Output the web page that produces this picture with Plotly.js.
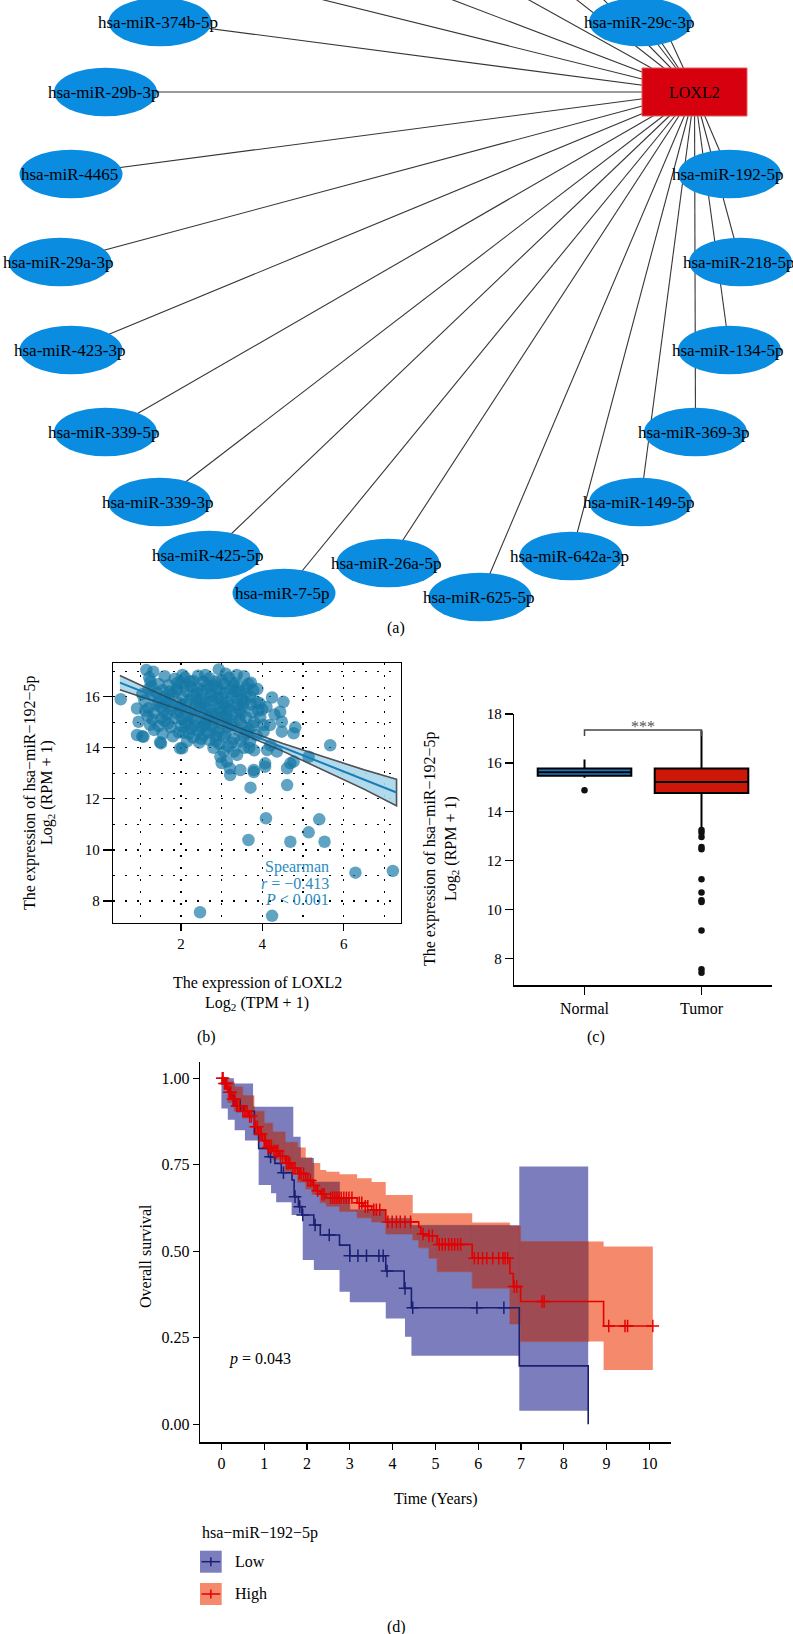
<!DOCTYPE html>
<html><head><meta charset="utf-8">
<script src="https://cdn.plot.ly/plotly-3.0.1.min.js"></script>
<style>html,body{margin:0;padding:0;background:#fff;}#chart{width:793px;height:1634px;}</style>
</head><body><div id="chart"></div>
<script>
const W = 793, H = 1634;
const FONT = 'Liberation Serif';

// ---------- Panel (a): miRNA – LOXL2 network ----------
const nodeNames = ['hsa-miR-374b-5p','hsa-miR-29c-3p','hsa-miR-29b-3p','hsa-miR-4465','hsa-miR-29a-3p','hsa-miR-423-3p',
  'hsa-miR-339-5p','hsa-miR-339-3p','hsa-miR-425-5p','hsa-miR-7-5p','hsa-miR-26a-5p','hsa-miR-625-5p',
  'hsa-miR-642a-3p','hsa-miR-149-5p','hsa-miR-369-3p','hsa-miR-134-5p','hsa-miR-218-5p','hsa-miR-192-5p'];
const nodeX = [160, 640.5, 105.5, 71, 60, 71, 105.5, 159.5, 209, 284, 388, 480, 571, 640.5, 695.5, 729.5, 740.5, 729.5];
const nodeY = [22, 22, 92, 174, 262, 350, 432, 502, 555, 593, 563, 597, 556, 502, 432, 350, 262, 174];
const hiddenX = [122.6, 321.7, 439.1, 513.1, 554.8, 599.6, 628.9];   // nodes above the cropped top
const hiddenY = [-50, -50, -50, -50, -50, -50, -50];
const hubName = 'LOXL2';
const hubX = 694.5, hubY = 92;

// ---------- Panel (b): correlation ----------
const loxl2Expr = [
1.15,1.32,2.93,1.6,2.42,3.37,3.55,2.1,1.85,2.7,
3.18,1.25,3.72,1.45,1.7,2.0,2.25,2.55,2.8,3.05,
3.3,3.6,1.2,1.55,1.9,2.15,2.4,2.65,2.95,3.2,
3.45,3.78,1.05,2.85,2.3,1.3,1.6,1.8,2.05,2.3,
2.5,2.75,3.0,3.25,3.5,3.7,1.1,1.45,1.95,2.2,
2.6,2.9,3.15,3.4,3.85,1.7,2.4,3.6,4.24,4.52,
3.93,1.2,1.5,1.75,2.0,2.25,2.45,2.7,2.95,3.2,
3.45,3.75,1.35,1.65,1.9,2.15,2.55,2.85,3.1,3.35,
3.6,0.92,0.96,4.44,4.0,2.35,3.05,1.3,1.6,1.85,
2.1,2.35,2.6,2.8,3.0,3.25,3.5,3.8,1.45,1.75,
2.0,2.25,2.5,2.75,3.15,3.4,3.65,4.48,4.03,4.19,
4.81,1.24,1.55,1.8,2.05,2.3,2.55,2.85,3.1,3.3,
3.55,3.85,0.92,1.05,1.49,2.15,2.45,2.7,2.95,3.25,
4.03,4.48,4.77,3.7,1.98,2.8,3.05,3.3,3.38,3.55,
3.8,4.12,4.36,4.2,2.97,5.67,5.14,3.0,3.13,3.2,
4.07,4.69,3.46,3.79,4.61,4.77,3.21,3.71,4.61,3.79,
4.07,0.52,1.08,1.51,2.03,2.47,3.66,4.09,4.24,4.69,
5.40,5.14,5.53,6.29,7.21,
1.88,2.12,2.28,2.38,2.52,2.62,2.68,2.78,2.88,2.98,
3.08,3.12,3.22,3.28,3.38,3.48,1.98,2.08,2.18,2.42,
2.58,2.72,2.92,3.02,3.42,3.52,3.62,1.62,1.72,1.52,
1.38,1.28,1.18,3.72,3.88,3.95,4.3,4.1,
1.42,1.58,1.68,1.78,1.92,2.02,2.22,2.32,2.48,2.56,
2.64,2.76,2.82,2.9,3.0,3.06,3.14,3.24,3.34,3.44,
3.56,3.66,3.76,3.9,1.95,2.2,2.5,2.66,2.86,3.16,
3.46,3.68,1.34,1.12,1.22,2.04,2.6,3.1];
const mir192Expr = [
17.05,16.98,17.07,16.8,16.82,16.85,16.8,16.75,16.7,16.72,
16.75,16.6,16.55,16.5,16.45,16.55,16.4,16.6,16.45,16.5,
16.55,16.35,16.3,16.25,16.3,16.2,16.35,16.3,16.25,16.3,
16.2,16.25,16.1,16.6,16.62,16.05,16.0,16.1,15.95,16.05,
15.9,16.1,15.95,16.05,15.9,16.0,15.85,15.8,15.75,15.85,
15.8,15.75,15.8,15.7,15.8,15.9,16.15,16.1,15.97,15.8,
15.75,15.55,15.6,15.5,15.6,15.45,15.6,15.5,15.55,15.45,
15.5,15.4,15.35,15.3,15.35,15.25,15.35,15.3,15.25,15.3,
15.2,15.54,15.02,15.41,15.5,15.65,15.7,15.1,15.05,15.15,
15.0,15.1,14.95,15.1,14.95,15.05,14.9,15.0,14.85,14.8,
14.85,14.75,14.8,14.85,14.8,14.7,14.75,15.02,14.89,14.89,
14.8,14.9,14.55,14.45,14.6,14.4,14.5,14.45,14.55,14.35,
14.45,14.5,14.5,14.45,14.22,14.25,14.2,14.3,14.15,14.2,
14.63,14.63,14.57,14.25,13.98,14.0,13.85,13.85,13.72,14.0,
13.9,13.91,13.85,14.1,13.65,14.1,13.65,13.4,13.46,13.2,
13.39,13.39,13.13,13.13,13.2,13.46,12.93,12.44,12.54,13.05,
13.26,15.9,14.43,14.17,13.98,7.56,10.39,11.24,7.42,10.32,
11.2,10.69,10.32,9.11,9.18,
16.2,15.7,15.2,15.9,16.25,15.55,15.15,15.85,16.35,15.4,
16.15,15.1,15.65,16.45,15.95,15.35,15.45,16.4,14.95,14.65,
14.9,16.0,14.65,15.2,16.4,15.65,14.6,15.75,16.2,15.15,
15.7,16.4,15.25,15.7,16.3,15.2,15.3,15.6,
16.15,15.45,14.95,15.65,16.55,15.15,16.6,14.85,15.75,15.05,
16.45,15.35,14.7,15.95,16.65,14.45,15.55,14.9,16.2,15.1,
15.8,16.5,14.85,15.45,14.6,14.55,14.35,14.6,14.25,14.05,
14.25,14.0,14.7,15.45,16.75,16.85,16.85,16.9];
const fitX  = [0.5, 1.5, 2.5, 3.5, 4.5, 5.5, 6.5, 7.3];
const fitY  = [16.55, 15.92, 15.29, 14.65, 14.02, 13.39, 12.76, 12.25];
const fitUp = [16.83, 16.09, 15.39, 14.74, 14.17, 13.64, 13.14, 12.77];
const fitLo = [16.27, 15.75, 15.19, 14.56, 13.87, 13.14, 12.38, 11.73];
const spearmanLines = ['Spearman', '<i>r</i> = −0.413', '<i>P</i> < 0.001'];

// ---------- Panel (c): box plot ----------
const groups = ['Normal', 'Tumor'];
const boxQ1 = [15.47, 14.77], boxMed = [15.62, 15.22], boxQ3 = [15.77, 15.77];
const boxLo = [15.39, 13.32], boxHi = [16.14, 17.31];
const boxColors = ['#1f78c1', '#cc1709'];
const outGroup = ['Normal','Tumor','Tumor','Tumor','Tumor','Tumor','Tumor','Tumor','Tumor','Tumor','Tumor','Tumor','Tumor'];
const outVal = [14.88, 13.25, 13.14, 12.97, 12.56, 12.47, 11.24, 10.70, 10.38, 10.31, 9.14, 7.55, 7.41];
const bracketY = [17.1, 17.35, 17.35, 17.1];
const sigLabel = '***';

// ---------- Panel (d): survival ----------
const lowT = [0, 0.1, 0.2, 0.29, 0.53, 0.77, 0.87, 1.1, 1.25, 1.4, 1.65, 1.70, 1.80, 1.88, 2.16, 2.31, 2.76, 3.00, 3.84, 4.27, 4.44, 6.96, 8.57];
const lowS = [1, 0.97, 0.95, 0.92, 0.905, 0.84, 0.797, 0.773, 0.754, 0.727, 0.706, 0.658, 0.629, 0.605, 0.576, 0.547, 0.518, 0.487, 0.443, 0.393, 0.337, 0.169, 0];
const lowCensor = [0.37, 0.44, 1.15, 1.45, 1.72, 1.83, 1.9, 2.19, 2.52, 3.0, 3.19, 3.39, 3.68, 3.78, 3.87, 4.29, 4.47, 5.97, 6.6];
const highT = [0, 0.05, 0.15, 0.24, 0.34, 0.48, 0.63, 0.77, 0.87, 0.96, 1.06, 1.20, 1.35, 1.49, 1.64, 1.78, 1.97, 2.12, 2.21, 2.31, 2.45, 3.17, 3.31, 3.51, 3.84, 4.61, 4.66, 4.85, 5.04, 5.86, 6.74, 6.82, 6.99, 8.93, 10.08];
const highS = [1, 0.985, 0.96, 0.94, 0.92, 0.905, 0.89, 0.86, 0.84, 0.82, 0.80, 0.79, 0.775, 0.755, 0.74, 0.725, 0.705, 0.69, 0.675, 0.665, 0.655, 0.64, 0.63, 0.62, 0.585, 0.57, 0.55, 0.545, 0.52, 0.48, 0.436, 0.398, 0.355, 0.284, 0.284];
const highCensor = [0.02,0.04,0.07,0.1,0.12,0.18,0.22,0.27,0.32,0.37,0.42,0.5,0.55,0.6,0.66,0.7,0.8,0.84,0.9,0.93,
  1.0,1.03,1.09,1.13,1.17,1.23,1.28,1.32,1.38,1.43,1.52,1.56,1.6,1.67,1.72,1.82,1.86,1.92,2.02,2.08,2.16,2.25,2.35,2.4,
  2.55,2.6,2.65,2.7,2.75,2.8,2.86,2.92,2.98,3.05,3.22,3.28,3.36,3.42,3.56,3.62,3.7,
  3.89,3.99,4.09,4.18,4.29,4.42,4.71,4.85,4.93,5.09,5.16,5.23,5.31,5.38,5.45,5.52,5.59,
  5.91,6.0,6.1,6.2,6.34,6.48,6.58,6.63,6.69,6.84,6.9,7.49,7.54,9.05,9.43,9.49,10.08];
const lowBandT  = [0, 0.15, 0.29, 0.31, 0.55, 0.74, 0.87, 1.16, 1.28, 1.64, 1.68, 1.85, 1.9, 2.16, 2.76, 3.0, 3.84, 4.29, 4.44, 6.96, 8.57];
const lowBandUp = [1.0, 1.0, 0.985, 0.985, 0.985, 0.918, 0.918, 0.918, 0.918, 0.918, 0.831, 0.77, 0.77, 0.70, 0.655, 0.62, 0.595, 0.595, 0.575, 0.745, 0.745];
const lowBandLo = [0.913, 0.88, 0.88, 0.85, 0.82, 0.82, 0.692, 0.668, 0.642, 0.605, 0.605, 0.605, 0.475, 0.446, 0.383, 0.353, 0.306, 0.253, 0.198, 0.039, 0.039];
const highBandT  = [0, 0.15, 0.3, 0.5, 0.77, 1.0, 1.2, 1.49, 1.78, 1.97, 2.12, 2.31, 2.45, 2.76, 3.17, 3.51, 3.84, 4.47, 4.61, 4.85, 5.04, 5.86, 6.74, 6.99, 8.93, 10.08];
const highBandUp = [1.0, 0.99, 0.975, 0.95, 0.905, 0.87, 0.845, 0.815, 0.80, 0.77, 0.755, 0.735, 0.73, 0.723, 0.711, 0.70, 0.663, 0.61, 0.61, 0.61, 0.61, 0.583, 0.573, 0.528, 0.514, 0.514];
const highBandLo = [0.985, 0.93, 0.905, 0.885, 0.835, 0.795, 0.765, 0.73, 0.70, 0.68, 0.665, 0.64, 0.63, 0.615, 0.597, 0.585, 0.55, 0.533, 0.51, 0.48, 0.441, 0.393, 0.29, 0.239, 0.157, 0.157];
const survTicks = [0, 0.25, 0.5, 0.75, 1.0];
const survTickText = ['0.00', '0.25', '0.50', '0.75', '1.00'];
const legendTitle = 'hsa−miR−192−5p';
const legendLabels = ['Low', 'High'];
const pText = '<i>p</i> = 0.043';

// ---------- helpers ----------
const px = v => v / W;
const py = v => 1 - v / H;
function stepAt(T, V, t) { let v = V[0]; for (let i = 0; i < T.length; i++) { if (T[i] <= t + 1e-9) v = V[i]; else break; } return v; }
function stepPoly(T, up, lo) {
  const xs = [], ys = [];
  for (let i = 0; i < T.length - 1; i++) { xs.push(T[i], T[i + 1]); ys.push(up[i], up[i]); }
  for (let i = T.length - 2; i >= 0; i--) { xs.push(T[i + 1], T[i]); ys.push(lo[i], lo[i]); }
  return { xs, ys };
}

const COL = { lowBand: '#7b7dbd', highBand: '#f48a6b', overlap: '#9e4b54', lowLine: '#1b1f72', highLine: '#e30000' };

const traces = [];
const shapes = [];
const annotations = [];

// ---- (a) network ----
const ex = [], ey = [];
for (let i = 0; i < nodeX.length; i++) { ex.push(nodeX[i], hubX, null); ey.push(nodeY[i], hubY, null); }
for (let i = 0; i < hiddenX.length; i++) { ex.push(hiddenX[i], hubX, null); ey.push(hiddenY[i], hubY, null); }
traces.push({ type: 'scatter', mode: 'lines', x: ex, y: ey, xaxis: 'x', yaxis: 'y', line: { color: '#363636', width: 1.1 }, hoverinfo: 'skip' });
const RX = 51.5, RY = 24.3;
for (let i = 0; i < nodeX.length; i++) {
  shapes.push({ type: 'circle', xref: 'x', yref: 'y', x0: nodeX[i] - RX, x1: nodeX[i] + RX, y0: nodeY[i] - RY, y1: nodeY[i] + RY,
    fillcolor: '#0a8ce0', line: { width: 0 }, layer: 'above' });
  annotations.push({ xref: 'x', yref: 'y', x: nodeX[i] - 2, y: nodeY[i], text: nodeNames[i], showarrow: false,
    font: { family: FONT, size: 17, color: '#000' }, xanchor: 'center', yanchor: 'middle' });
}
shapes.push({ type: 'rect', xref: 'x', yref: 'y', x0: hubX - 52.5, x1: hubX + 52.5, y0: hubY - 24, y1: hubY + 24,
  fillcolor: '#d7000f', line: { color: '#e45a5a', width: 1 }, layer: 'above' });
annotations.push({ xref: 'x', yref: 'y', x: hubX, y: hubY, text: hubName, showarrow: false, xanchor: 'center', yanchor: 'middle',
  font: { family: FONT, size: 16, color: '#000' } });

// ---- (b) scatter ----
const bandPoly = { x: fitX.concat(fitX.slice().reverse()), y: fitUp.concat(fitLo.slice().reverse()) };
traces.push({ type: 'scatter', mode: 'lines', x: bandPoly.x, y: bandPoly.y, fill: 'toself', fillcolor: 'rgba(168,214,234,0.9)',
  line: { color: '#7a7a7a', width: 1.5 }, xaxis: 'x2', yaxis: 'y2', hoverinfo: 'skip' });
traces.push({ type: 'scatter', mode: 'markers', x: loxl2Expr, y: mir192Expr, xaxis: 'x2', yaxis: 'y2',
  marker: { size: 12.5, color: 'rgba(20,120,165,0.68)', line: { width: 0 } }, hoverinfo: 'skip' });
traces.push({ type: 'scatter', mode: 'lines', x: bandPoly.x, y: bandPoly.y, line: { color: 'rgba(40,50,55,0.55)', width: 1.4 },
  xaxis: 'x2', yaxis: 'y2', hoverinfo: 'skip' });
traces.push({ type: 'scatter', mode: 'lines', x: fitX, y: fitY, line: { color: '#1a7db5', width: 2 }, xaxis: 'x2', yaxis: 'y2', hoverinfo: 'skip' });
const spY = [866.7, 883.3, 900];
spearmanLines.forEach((t, i) => annotations.push({ xref: 'paper', yref: 'paper', x: px(331), y: py(spY[i]), text: t, showarrow: false,
  xanchor: 'right', yanchor: 'middle', font: { family: FONT, size: 16, color: '#2b8cbe' } }));

// ---- (c) box ----
for (let i = 0; i < groups.length; i++) {
  traces.push({ type: 'box', x: [groups[i]], q1: [boxQ1[i]], median: [boxMed[i]], q3: [boxQ3[i]], lowerfence: [boxLo[i]], upperfence: [boxHi[i]],
    fillcolor: boxColors[i], line: { color: '#000', width: 2 }, width: 0.8, whiskerwidth: 0, boxpoints: false,
    xaxis: 'x3', yaxis: 'y3', hoverinfo: 'skip' });
}
traces.push({ type: 'scatter', mode: 'markers', x: outGroup, y: outVal, marker: { color: '#111', size: 6.5 }, xaxis: 'x3', yaxis: 'y3', hoverinfo: 'skip' });
traces.push({ type: 'scatter', mode: 'lines', x: [groups[0], groups[0], groups[1], groups[1]], y: bracketY, line: { color: '#444', width: 1.5 },
  xaxis: 'x3', yaxis: 'y3', hoverinfo: 'skip' });
annotations.push({ xref: 'x3', yref: 'y3', x: 0.5, y: 17.47, text: sigLabel, showarrow: false, xanchor: 'center', yanchor: 'middle',
  font: { family: FONT, size: 16, color: '#555' } });

// ---- (d) survival ----
const lp = stepPoly(lowBandT, lowBandUp, lowBandLo);
const hp = stepPoly(highBandT, highBandUp, highBandLo);
traces.push({ type: 'scatter', mode: 'lines', x: lp.xs, y: lp.ys, fill: 'toself', fillcolor: COL.lowBand, line: { width: 0, color: COL.lowBand }, xaxis: 'x4', yaxis: 'y4', hoverinfo: 'skip' });
traces.push({ type: 'scatter', mode: 'lines', x: hp.xs, y: hp.ys, fill: 'toself', fillcolor: COL.highBand, line: { width: 0, color: COL.highBand }, xaxis: 'x4', yaxis: 'y4', hoverinfo: 'skip' });
const endOv = Math.min(lowBandT[lowBandT.length - 1], highBandT[highBandT.length - 1]);
const merged = Array.from(new Set(lowBandT.concat(highBandT).filter(t => t <= endOv))).sort((a, b) => a - b);
const ovX = [], ovY = [];
for (let i = 0; i < merged.length - 1; i++) {
  const a = merged[i], b = merged[i + 1];
  const top = Math.min(stepAt(lowBandT, lowBandUp, a), stepAt(highBandT, highBandUp, a));
  const bot = Math.max(stepAt(lowBandT, lowBandLo, a), stepAt(highBandT, highBandLo, a));
  if (top > bot) { ovX.push(a, b, b, a, a, null); ovY.push(bot, bot, top, top, bot, null); }
}
traces.push({ type: 'scatter', mode: 'lines', x: ovX, y: ovY, fill: 'toself', fillcolor: COL.overlap, line: { width: 0.6, color: COL.overlap },
  xaxis: 'x4', yaxis: 'y4', hoverinfo: 'skip' });
traces.push({ type: 'scatter', mode: 'lines', x: lowT, y: lowS, line: { shape: 'hv', color: COL.lowLine, width: 1.6 }, xaxis: 'x4', yaxis: 'y4', hoverinfo: 'skip' });
traces.push({ type: 'scatter', mode: 'lines', x: highT, y: highS, line: { shape: 'hv', color: COL.highLine, width: 1.6 }, xaxis: 'x4', yaxis: 'y4', hoverinfo: 'skip' });
traces.push({ type: 'scatter', mode: 'markers', x: lowCensor, y: lowCensor.map(t => stepAt(lowT, lowS, t)),
  marker: { symbol: 'cross-thin', size: 9, line: { color: COL.lowLine, width: 1.5 } }, xaxis: 'x4', yaxis: 'y4', hoverinfo: 'skip' });
traces.push({ type: 'scatter', mode: 'markers', x: highCensor, y: highCensor.map(t => stepAt(highT, highS, t)),
  marker: { symbol: 'cross-thin', size: 9, line: { color: COL.highLine, width: 1.5 } }, xaxis: 'x4', yaxis: 'y4', hoverinfo: 'skip' });

// paper-positioned texts (explicit anchors)
function ann(x, y, text, opts) { annotations.push(Object.assign({ xref: 'paper', yref: 'paper', x: px(x), y: py(y), text, showarrow: false,
  xanchor: 'center', yanchor: 'middle', font: { family: FONT, size: 16, color: '#000' } }, opts || {})); }
ann(260, 1359, pText);

// legend
ann(200, 1533, legendTitle, { xanchor: 'left' });
const keyY = [1561.7, 1594], keyFill = [COL.lowBand, COL.highBand], keyLine = [COL.lowLine, COL.highLine];
for (let i = 0; i < 2; i++) {
  shapes.push({ type: 'rect', xref: 'paper', yref: 'paper', x0: px(200), x1: px(221.7), y0: py(keyY[i] + 11), y1: py(keyY[i] - 11), fillcolor: keyFill[i], line: { width: 0 } });
  shapes.push({ type: 'line', xref: 'paper', yref: 'paper', x0: px(201.5), x1: px(220.2), y0: py(keyY[i]), y1: py(keyY[i]), line: { color: keyLine[i], width: 1.5 } });
  shapes.push({ type: 'line', xref: 'paper', yref: 'paper', x0: px(210.85), x1: px(210.85), y0: py(keyY[i] - 4.5), y1: py(keyY[i] + 4.5), line: { color: keyLine[i], width: 1.5 } });
  ann(232.7, keyY[i], legendLabels[i], { xanchor: 'left' });
}

// axis titles & panel labels
ann(30, 793, 'The expression of hsa−miR−192−5p', { textangle: -90 });
ann(48, 793, 'Log<sub>2</sub> (RPM + 1)', { textangle: -90 });
ann(257, 983, 'The expression of LOXL2');
ann(257, 1003, 'Log<sub>2</sub> (TPM + 1)');
ann(430, 849, 'The expression of hsa−miR−192−5p', { textangle: -90 });
ann(451, 849, 'Log<sub>2</sub> (RPM + 1)', { textangle: -90 });
ann(145, 1256, 'Overall survival', { textangle: -90 });
ann(435.5, 1499, 'Time (Years)');
ann(396, 628, '(a)');
ann(207, 1037, '(b)');
ann(596, 1037, '(c)');
ann(396, 1627, '(d)');

const tickFont = { family: FONT, size: 15, color: '#000' };
const dotGrid = '2px,10px';
const layout = {
  width: W, height: H, margin: { l: 0, r: 0, t: 0, b: 0 }, paper_bgcolor: '#fff', plot_bgcolor: 'rgba(0,0,0,0)',
  showlegend: false, font: { family: FONT, color: '#000' },
  xaxis: { domain: [0, 1], range: [0, W], visible: false, fixedrange: true },
  yaxis: { domain: [1 - 630 / H, 1], range: [630, 0], visible: false, fixedrange: true },
  xaxis2: { domain: [px(113), px(401)], anchor: 'y2', range: [0.33, 7.41], tick0: 0, dtick: 2, showline: true, mirror: true, linecolor: '#000', linewidth: 1.3,
    ticks: 'outside', ticklen: 7, tickwidth: 1.2, tickcolor: '#000', tickfont: tickFont, zeroline: false,
    showgrid: true, gridcolor: '#000', gridwidth: 1.2, griddash: dotGrid,
    minor: { tick0: 0, dtick: 1, showgrid: true, gridcolor: '#000', gridwidth: 1.2, griddash: dotGrid, ticks: '' } },
  yaxis2: { domain: [py(923), py(663)], anchor: 'x2', range: [7.14, 17.32], tick0: 0, dtick: 2, showline: true, mirror: true, linecolor: '#000', linewidth: 1.3,
    ticks: 'outside', ticklen: 9, tickwidth: 1.2, tickcolor: '#000', tickfont: tickFont, zeroline: false,
    showgrid: true, gridcolor: '#000', gridwidth: 1.2, griddash: dotGrid,
    minor: { tick0: 0, dtick: 1, showgrid: true, gridcolor: '#000', gridwidth: 1.2, griddash: dotGrid, ticks: '' } },
  xaxis3: { domain: [px(514.3), px(771.7)], anchor: 'y3', type: 'category', categoryorder: 'array', categoryarray: groups, range: [-0.6, 1.6],
    showline: true, linecolor: '#000', linewidth: 1.5, ticks: 'outside', ticklen: 8, tickwidth: 1.3, tickcolor: '#000',
    tickfont: { family: FONT, size: 16, color: '#000' }, showgrid: false, zeroline: false },
  yaxis3: { domain: [py(985), py(714)], anchor: 'x3', range: [6.91, 18], tick0: 0, dtick: 2, showline: true, linecolor: '#000', linewidth: 1.5,
    ticks: 'outside', ticklen: 8, tickwidth: 1.3, tickcolor: '#000', tickfont: tickFont, showgrid: false, zeroline: false },
  xaxis4: { domain: [px(200), px(670.8)], anchor: 'y4', range: [-0.5, 10.5], tick0: 0, dtick: 1, showline: true, linecolor: '#000', linewidth: 1.3,
    ticks: 'outside', ticklen: 6, tickwidth: 1.3, tickcolor: '#000', tickfont: { family: FONT, size: 16, color: '#000' }, showgrid: false, zeroline: false },
  yaxis4: { domain: [py(1442.3), py(1061.7)], anchor: 'x4', range: [-0.052, 1.048], tickvals: survTicks, ticktext: survTickText,
    showline: true, linecolor: '#000', linewidth: 1.3, ticks: 'outside', ticklen: 6, tickwidth: 1.3, tickcolor: '#000',
    tickfont: { family: FONT, size: 16, color: '#000' }, showgrid: false, zeroline: false },
  shapes, annotations
};
Plotly.newPlot('chart', traces, layout, { displayModeBar: false, staticPlot: true });
</script></body></html>
